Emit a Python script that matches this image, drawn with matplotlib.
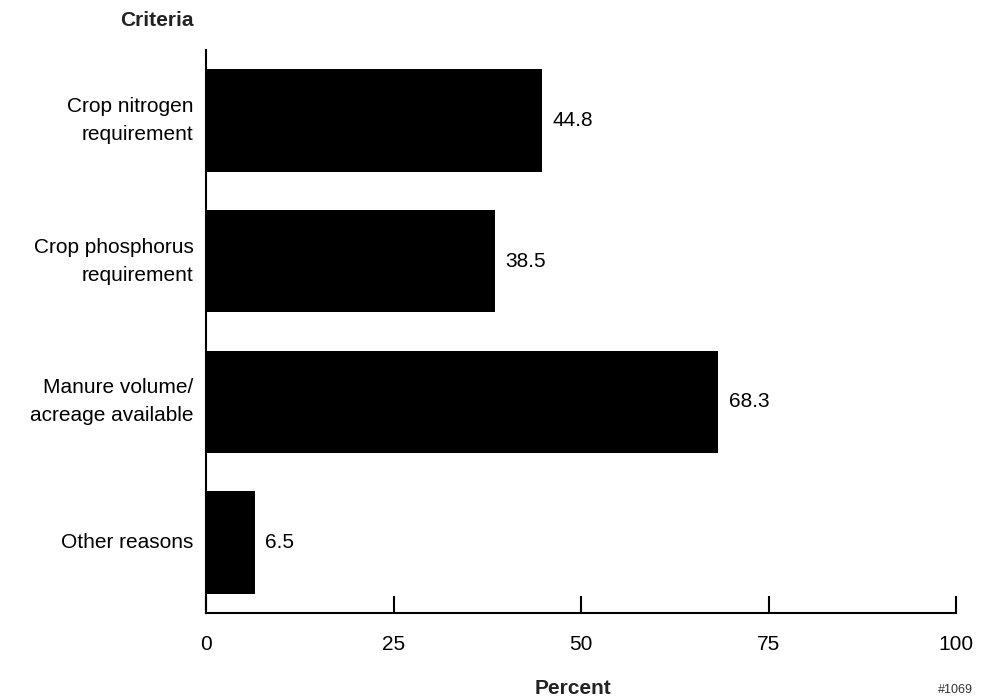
import matplotlib.pyplot as plt

plt.rcParams["font.family"] = ["Liberation Sans", "DejaVu Sans"]

# Data
criteria = ["Crop nitrogen\nrequirement", "Crop phosphorus\nrequirement",
            "Manure volume/\nacreage available", "Other reasons"]
percent = [44.8, 38.5, 68.3, 6.5]
xticks = [0, 25, 50, 75, 100]

fig = plt.figure(figsize=(9.89, 6.98), dpi=100)
ax = fig.add_axes([206 / 989, 1 - 613 / 698, 750 / 989, 563 / 698])

pos = list(range(len(criteria)))
ax.barh(pos, percent, height=0.73, color="black")
for p, v in zip(pos, percent):
    ax.text(v + 1.4, p, f"{v}", va="center", ha="left", fontsize=15)

ax.set_xlim(0, 100)
ax.set_ylim(3.5, -0.5)
ax.set_xticks(xticks)
ax.set_xticklabels([str(t) for t in xticks], fontsize=15)
ax.set_yticks(pos)
ax.set_yticklabels(criteria, fontsize=15, linespacing=1.6, va="center")
ax.tick_params(axis="x", direction="in", length=12, width=1.5, pad=16)
ax.tick_params(axis="y", length=0, pad=9)
for s in ["top", "right"]:
    ax.spines[s].set_visible(False)
for s in ["left", "bottom"]:
    ax.spines[s].set_linewidth(1.5)

fig.text(157 / 989, 1 - 20 / 698, "Criteria", ha="center", va="center",
         fontsize=15, fontweight="bold", color="#222222")
fig.text(573 / 989, 1 - 688 / 698, "Percent", ha="center", va="center",
         fontsize=15, fontweight="bold", color="#222222")
fig.text(955 / 989, 1 - 690 / 698, "#1069", ha="center", va="center",
         fontsize=9, color="#333333")

fig.savefig("out.png", dpi=100)
